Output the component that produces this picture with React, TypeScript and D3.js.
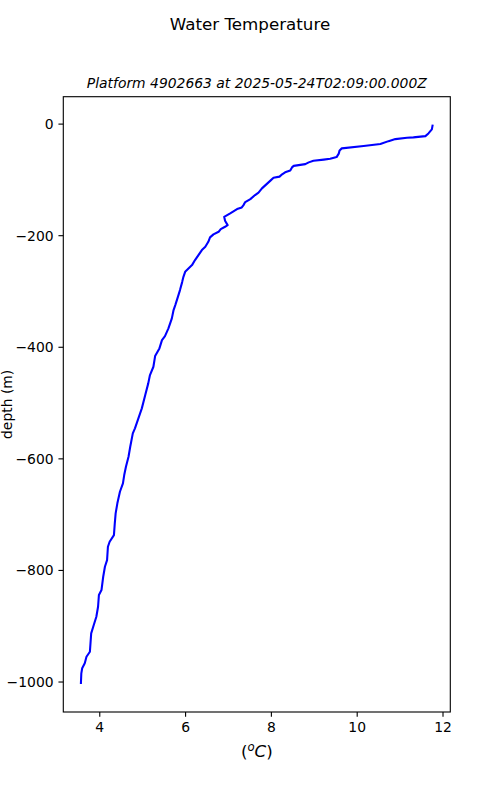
import React from 'react';
import * as d3 from 'd3';

// Profile (temperature °C, depth m)
const temperature = [
  11.76, 11.74, 11.66, 11.59, 11.31, 11.16, 10.89, 10.73, 10.54, 10.15,
  9.64, 9.59, 9.57, 9.52, 9.37, 9.22, 8.98, 8.87, 8.79, 8.52,
  8.48, 8.44, 8.32, 8.25, 8.19, 8.05, 7.99, 7.78, 7.70, 7.62,
  7.51, 7.39, 7.35, 7.31, 7.20, 7.04, 6.90, 6.92, 6.98, 6.92,
  6.82, 6.77, 6.65, 6.57, 6.53, 6.46, 6.38, 6.30, 6.22, 6.15,
  5.99, 5.95, 5.92, 5.87, 5.81, 5.76, 5.72, 5.68, 5.60, 5.52,
  5.45, 5.39, 5.29, 5.25, 5.17, 5.13, 5.06, 4.98, 4.90, 4.82,
  4.77, 4.71, 4.67, 4.61, 4.57, 4.54, 4.47, 4.41, 4.37, 4.35,
  4.33, 4.23, 4.19, 4.17, 4.12, 4.08, 4.04, 3.98, 3.96, 3.92,
  3.86, 3.80, 3.77, 3.69, 3.65, 3.59, 3.57, 3.56,
];
const depth = [
  -1, -9.5, -16.7, -21.5, -23.8, -24.6, -26.9, -30.5, -35.8, -39.4,
  -43.5, -47.1, -52.9, -59.1, -62.2, -63.6, -65.8, -68.6, -71.7, -74.9,
  -77.6, -83.3, -86.4, -90.0, -94.1, -96.2, -100.4, -115.2, -122.8, -127.2,
  -134.4, -139.8, -145.2, -149.3, -152.3, -160.0, -166.1, -173.3, -181.0, -184.0,
  -188.2, -193.0, -197.7, -203.0, -210.9, -219.9, -225.8, -234.8, -243.7, -252.7,
  -264.7, -273.7, -283.2, -297.5, -312.4, -324.4, -333.3, -348.2, -366.1, -379.9,
  -387.1, -402.0, -415.8, -434.9, -449.8, -464.7, -485.7, -509.5, -527.4, -545.3,
  -554.3, -578.3, -596.2, -614.2, -629.0, -643.9, -659.0, -679.7, -697.7, -715.6,
  -736.6, -748.6, -757.5, -781.4, -793.4, -811.3, -835.1, -844.1, -865.1, -883.0,
  -897.8, -912.7, -945.7, -954.7, -966.5, -975.4, -984.4, -1003.6,
];
const xTicks = [4, 6, 8, 10, 12];
const yTicks = [0, -200, -400, -600, -800, -1000];

const title = 'Water Temperature';
const subtitle = 'Platform 4902663 at 2025-05-24T02:09:00.000Z';

const W = 500;
const H = 800;
const margin = { left: 63.3, right: 450.3, top: 96.7, bottom: 712 };
const font = 'DejaVu Sans, sans-serif';
const tickLen = 4.86;

// matplotlib style 5% padding around the data
const pad = (ext: [number, number]) => {
  const r = ext[1] - ext[0];
  return [ext[0] - 0.05 * r, ext[1] + 0.05 * r];
};

const fmt = (v: number) => (v < 0 ? '\u2212' + Math.abs(v) : String(v));

export default function App() {
  const x = d3.scaleLinear()
    .domain(pad(d3.extent(temperature) as [number, number]))
    .range([margin.left, margin.right]);
  const y = d3.scaleLinear()
    .domain(pad(d3.extent(depth) as [number, number]))
    .range([margin.bottom, margin.top]);

  const points = temperature.map((t, i) => [t, depth[i]] as [number, number]);
  const line = d3.line<[number, number]>()
    .x((d) => x(d[0]))
    .y((d) => y(d[1]));

  const cx = (margin.left + margin.right) / 2;
  const cy = (margin.top + margin.bottom) / 2;

  return (
    <svg
      width={W}
      height={H}
      style={{ position: 'absolute', left: 0, top: 0, background: '#fff' }}
      fontFamily={font}
    >
      <rect width={W} height={H} fill="#fff" />
      <text x={W / 2} y={30} textAnchor="middle" fontSize={16.7}>{title}</text>
      <text x={cx} y={88.4} textAnchor="middle" fontSize={13.9} fontStyle="italic">{subtitle}</text>

      <path d={line(points) || ''} fill="none" stroke="#0000ff" strokeWidth={2.08}
        strokeLinejoin="round" strokeLinecap="butt" />

      <rect x={margin.left} y={margin.top} width={margin.right - margin.left}
        height={margin.bottom - margin.top} fill="none" stroke="#000" strokeWidth={1.11} />

      {xTicks.map((t) => (
        <g key={'x' + t}>
          <line x1={x(t)} x2={x(t)} y1={margin.bottom} y2={margin.bottom + tickLen}
            stroke="#000" strokeWidth={1.11} />
          <text x={x(t)} y={margin.bottom + tickLen + 4.86 + 10.5} textAnchor="middle"
            fontSize={13.9}>{fmt(t)}</text>
        </g>
      ))}
      {yTicks.map((t) => (
        <g key={'y' + t}>
          <line x1={margin.left - tickLen} x2={margin.left} y1={y(t)} y2={y(t)}
            stroke="#000" strokeWidth={1.11} />
          <text x={margin.left - tickLen - 4.86} y={y(t)} dy="0.36em" textAnchor="end"
            fontSize={13.9}>{fmt(t)}</text>
        </g>
      ))}

      <text x={cx} y={757} textAnchor="middle" fontSize={16.7}>
        <tspan>(</tspan>
        <tspan fontStyle="italic" fontSize={11.7} dy={-6}>o</tspan>
        <tspan fontStyle="italic" dy={6}>C</tspan>
        <tspan>)</tspan>
      </text>
      <text transform={`translate(11.5,${cy}) rotate(-90)`} textAnchor="middle" fontSize={13.9}>
        depth (m)
      </text>
    </svg>
  );
}
